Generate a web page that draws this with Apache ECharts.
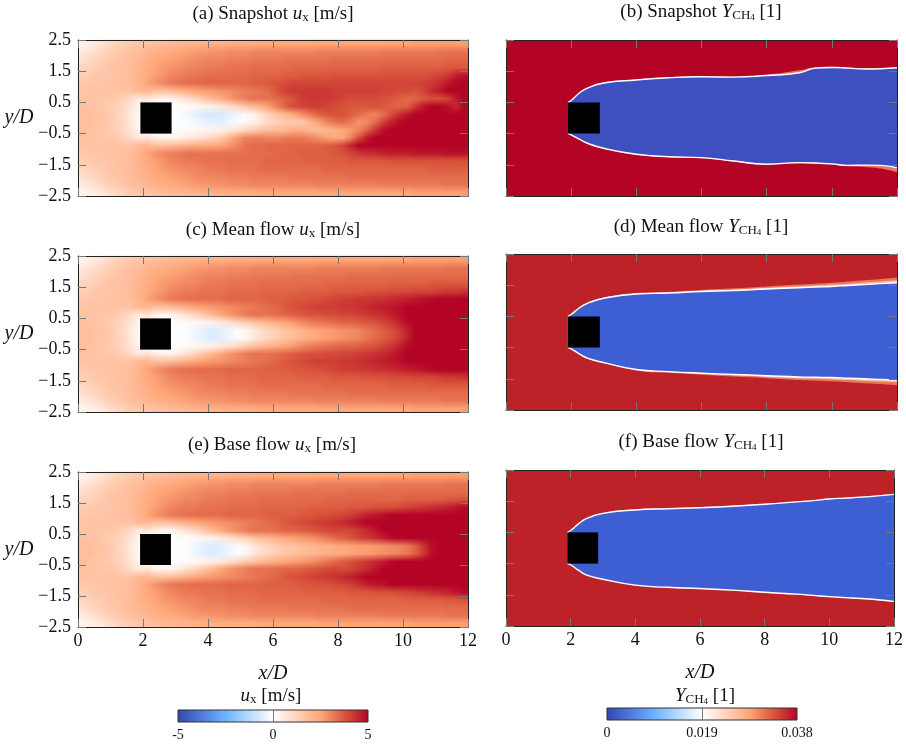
<!DOCTYPE html>
<html><head><meta charset="utf-8"><style>html,body{margin:0;padding:0;background:#fff}#c{width:906px;height:745px}</style>
<script src="https://cdn.jsdelivr.net/npm/echarts@6/dist/echarts.min.js"></script></head><body><div id="c"></div><script>
// ux fields in 0.1 m/s. Rows y=2.375..-2.375 (step .25), columns x=.125..11.875 (step .25)
const snapshotUx=[
[3,5,7,9,12,14,15,16,17,18,19,20,20,21,21,22,22,22,23,23,23,23,24,24,24,24,24,24,24,25,25,25,25,25,25,25,25,25,25,25,25,26,26,26,26,26,26,26],
[6,8,11,13,15,16,18,19,21,22,23,24,25,26,27,27,28,28,29,29,29,30,30,30,30,30,30,30,30,31,31,31,31,31,31,31,31,32,32,32,32,32,32,32,33,33,33,33],
[9,11,13,15,16,17,19,20,22,24,25,26,27,28,29,30,30,30,31,31,31,32,32,32,32,33,33,33,33,33,33,34,34,34,34,34,34,34,34,34,34,34,34,34,34,35,35,35],
[12,13,14,16,17,18,19,21,23,25,27,28,29,30,30,31,32,32,33,33,33,34,34,34,34,34,35,35,35,35,35,35,35,35,35,35,35,36,36,36,36,36,36,36,36,37,37,37],
[14,15,16,16,17,18,19,21,24,26,28,30,31,32,33,33,34,34,34,34,34,35,35,35,35,36,36,37,37,37,37,38,38,38,38,38,38,38,38,38,38,38,38,39,40,42,46,48],
[15,16,16,17,17,18,19,21,25,28,30,32,33,34,34,35,35,35,35,35,35,36,36,37,38,39,40,40,40,40,40,40,40,40,40,40,40,40,40,40,40,40,41,42,44,47,49,50],
[16,17,17,17,17,17,17,20,20,18,18,19,21,23,25,26,27,28,29,30,31,32,33,34,38,41,42,42,42,42,42,41,41,41,41,41,41,40,40,39,39,38,40,44,47,50,50,50],
[17,17,16,16,15,13,10,6,8,4,3,3,6,9,12,16,20,23,26,29,31,33,33,33,34,36,38,41,42,42,42,41,40,39,39,39,39,38,37,36,34,35,37,38,38,40,46,50],
[18,17,16,15,14,11,7,3,0,0,0,0,1,1,2,3,4,6,9,12,16,19,22,26,31,36,39,40,41,41,40,39,38,37,37,37,38,37,36,35,36,42,47,50,50,48,44,50],
[18,18,17,16,14,11,6,2,0,0,0,0,-1,-2,-5,-7,-7,-7,-5,-3,-1,3,8,13,17,20,24,28,32,35,37,38,38,36,34,32,30,33,38,43,47,50,50,50,50,50,50,50],
[18,18,17,16,14,11,6,2,0,0,0,0,0,-1,-2,-4,-5,-5,-3,-1,1,4,7,10,13,15,15,15,20,26,30,33,34,32,28,29,34,40,45,49,50,50,50,50,50,50,50,50],
[18,17,16,15,14,11,7,3,0,0,0,0,1,1,2,3,3,4,6,8,11,14,17,18,19,20,22,22,20,19,20,22,25,27,30,35,42,48,50,50,50,50,50,50,50,50,50,50],
[17,17,16,16,15,13,10,6,8,4,3,3,4,6,7,9,12,15,20,26,30,31,31,30,30,31,32,32,30,28,26,24,24,30,38,46,50,50,50,50,50,50,50,50,50,50,50,50],
[16,17,17,17,17,17,17,20,20,18,18,19,21,22,23,24,24,25,27,30,33,34,34,35,35,35,35,35,35,35,36,37,40,45,50,50,50,50,50,50,50,50,50,50,50,50,50,50],
[15,16,16,17,17,18,19,21,25,28,30,31,32,33,33,33,33,33,33,33,33,34,34,34,35,35,35,36,36,36,36,37,38,40,42,43,44,45,46,46,46,47,47,47,47,48,48,48],
[14,15,16,16,17,18,19,21,24,26,28,30,31,32,32,33,33,33,34,34,34,34,34,35,35,35,35,35,36,36,36,36,36,37,37,37,37,37,38,38,38,38,38,38,38,38,38,38],
[12,13,14,16,17,18,19,21,23,25,27,28,29,30,30,31,32,32,33,33,33,33,34,34,34,34,34,34,34,34,35,35,35,35,35,35,35,35,35,35,35,35,35,36,36,36,36,36],
[9,11,13,15,16,17,19,20,22,24,25,26,27,28,29,30,30,30,31,31,31,32,32,32,32,32,33,33,33,33,33,33,33,34,34,34,34,34,34,34,34,34,34,34,34,34,34,34],
[6,8,10,13,15,16,18,19,21,22,23,24,25,26,27,27,28,28,29,29,29,30,30,30,30,30,30,30,30,31,31,31,31,31,31,31,31,32,32,32,32,32,32,32,32,33,33,33],
[3,4,6,8,11,13,15,16,17,18,19,20,20,21,21,22,22,22,23,23,23,23,24,24,24,24,24,24,24,25,25,25,25,25,25,25,25,25,25,25,25,26,26,26,26,26,26,26]];
const meanUx=[
[3,5,7,9,12,14,15,16,17,18,19,20,20,21,21,22,22,22,23,23,23,23,24,24,24,24,24,24,24,25,25,25,25,25,25,25,25,25,25,25,25,26,26,26,26,26,26,26],
[6,8,11,13,15,16,18,19,21,22,23,24,25,26,27,27,28,28,29,29,29,30,30,30,30,30,30,30,30,31,31,31,31,31,31,31,31,32,32,32,32,32,32,32,32,33,33,33],
[9,11,13,15,16,17,19,20,22,24,25,26,27,28,29,30,30,30,31,31,31,32,32,32,32,32,33,33,33,33,33,33,33,34,34,34,34,34,34,34,34,34,34,34,34,34,34,34],
[12,13,14,16,17,18,19,21,23,25,27,28,29,30,30,31,32,32,33,33,33,33,34,34,34,34,34,34,34,34,35,35,35,35,35,35,35,35,36,36,36,36,36,37,37,37,37,37],
[14,15,16,16,17,18,19,21,24,26,28,30,31,32,32,33,33,33,34,34,34,34,35,35,35,35,35,36,36,36,36,37,37,37,37,38,38,38,39,39,39,40,40,40,41,42,42,43],
[15,16,16,17,17,18,19,21,25,28,30,32,33,33,34,34,34,34,35,35,35,35,35,36,36,36,37,37,38,38,39,40,41,41,42,42,43,43,44,45,46,47,48,49,50,50,50,50],
[16,17,17,17,17,17,17,20,20,18,18,19,21,23,25,26,27,28,29,30,31,32,33,34,35,37,38,39,40,41,41,41,42,42,43,44,45,46,47,48,50,50,50,50,50,50,50,50],
[17,17,16,16,15,13,10,6,8,4,3,3,6,9,12,16,20,24,27,29,31,33,33,33,34,35,36,37,38,38,39,39,40,40,41,42,43,44,46,48,50,50,50,50,50,50,50,50],
[18,17,16,15,14,11,7,3,0,0,0,0,1,1,2,3,4,6,8,11,14,17,19,21,23,25,27,29,31,32,33,34,35,35,36,37,38,40,42,45,49,50,50,50,50,50,50,50],
[18,18,17,16,14,11,6,2,0,0,0,0,0,-1,-3,-5,-6,-5,-3,-1,2,6,9,12,14,17,19,21,23,25,26,27,28,29,30,32,34,36,38,41,46,50,50,50,50,50,50,50],
[18,18,17,16,14,11,6,2,0,0,0,0,0,-1,-3,-5,-6,-5,-3,-1,2,6,9,12,14,17,19,21,23,25,26,27,28,29,30,32,34,36,38,41,46,50,50,50,50,50,50,50],
[18,17,16,15,14,11,7,3,0,0,0,0,1,1,2,3,4,6,8,11,14,17,19,21,23,25,27,29,31,32,33,34,35,35,36,37,38,40,42,45,49,50,50,50,50,50,50,50],
[17,17,16,16,15,13,10,6,8,4,3,3,6,9,12,16,20,24,27,29,31,33,33,33,34,35,36,37,38,38,39,39,40,40,41,42,43,44,46,48,50,50,50,50,50,50,50,50],
[16,17,17,17,17,17,17,20,20,18,18,19,21,23,25,26,27,28,29,30,31,32,33,34,35,37,38,39,40,41,41,41,42,42,43,44,45,46,47,48,50,50,50,50,50,50,50,50],
[15,16,16,17,17,18,19,21,25,28,30,32,33,33,34,34,34,34,35,35,35,35,35,36,36,36,37,37,38,38,39,40,41,41,42,42,43,43,44,45,46,47,48,49,50,50,50,50],
[14,15,16,16,17,18,19,21,24,26,28,30,31,32,32,33,33,33,34,34,34,34,35,35,35,35,35,36,36,36,36,37,37,37,37,38,38,38,39,39,39,40,40,40,41,42,42,43],
[12,13,14,16,17,18,19,21,23,25,27,28,29,30,30,31,32,32,33,33,33,33,34,34,34,34,34,34,34,34,35,35,35,35,35,35,35,35,36,36,36,36,36,37,37,37,37,37],
[9,11,13,15,16,17,19,20,22,24,25,26,27,28,29,30,30,30,31,31,31,32,32,32,32,32,33,33,33,33,33,33,33,34,34,34,34,34,34,34,34,34,34,34,34,34,34,34],
[6,8,10,13,15,16,18,19,21,22,23,24,25,26,27,27,28,28,29,29,29,30,30,30,30,30,30,30,30,31,31,31,31,31,31,31,31,32,32,32,32,32,32,32,32,33,33,33],
[3,4,6,8,11,13,15,16,17,18,19,20,20,21,21,22,22,22,23,23,23,23,24,24,24,24,24,24,24,25,25,25,25,25,25,25,25,25,25,25,25,26,26,26,26,26,26,26]];
const baseUx=[
[3,5,7,9,12,14,15,16,17,18,19,20,20,21,21,22,22,22,23,23,23,23,24,24,24,24,24,24,24,25,25,25,25,25,25,25,25,25,25,25,25,26,26,26,26,26,26,26],
[6,8,11,13,15,16,18,19,21,22,23,24,25,26,27,27,28,28,29,29,29,30,30,30,30,30,30,30,30,31,31,31,31,31,31,31,31,32,32,32,32,32,32,32,32,33,33,33],
[9,11,13,15,16,17,19,20,22,24,25,26,27,28,29,30,30,30,31,31,31,32,32,32,32,32,33,33,33,33,33,33,33,34,34,34,34,34,34,34,34,34,34,34,34,34,34,34],
[12,13,14,16,17,18,19,21,23,25,27,28,29,30,30,31,32,32,33,33,33,33,34,34,34,34,34,34,34,34,35,35,35,35,35,35,35,35,35,35,36,36,36,36,36,37,37,38],
[14,15,16,16,17,18,19,21,24,26,28,30,31,32,32,33,33,33,34,34,34,34,35,35,35,35,35,35,36,36,36,36,36,37,37,37,38,38,38,39,40,41,42,43,44,45,47,49],
[15,16,16,17,17,18,19,21,25,28,30,32,33,33,34,34,34,34,35,35,35,35,35,36,36,36,36,37,37,38,38,39,40,41,43,46,47,48,50,50,50,50,50,50,50,50,50,50],
[16,17,17,17,17,17,17,20,20,18,18,19,21,23,25,26,27,28,29,30,31,32,33,34,35,37,38,39,40,41,42,43,44,46,48,50,50,50,50,50,50,50,50,50,50,50,50,50],
[17,17,16,16,15,13,10,6,8,4,3,3,6,9,12,16,20,24,27,29,31,33,33,33,34,35,35,36,37,38,39,40,39,40,42,44,47,50,50,50,50,50,50,50,50,50,50,50],
[18,17,16,15,14,11,7,3,0,0,0,0,1,1,2,3,4,6,8,11,14,17,19,21,23,25,26,27,28,30,32,34,36,38,40,42,44,46,49,50,50,50,50,50,50,50,50,50],
[18,18,17,16,14,11,6,2,0,0,0,0,0,-1,-3,-5,-6,-5,-3,-1,2,6,9,12,14,16,17,19,20,21,22,23,24,25,26,26,27,28,29,30,32,36,42,48,50,50,50,50],
[18,18,17,16,14,11,6,2,0,0,0,0,0,-1,-3,-5,-6,-5,-3,-1,2,6,9,12,14,16,17,19,20,21,22,23,24,25,26,26,27,28,29,30,32,36,42,48,50,50,50,50],
[18,17,16,15,14,11,7,3,0,0,0,0,1,1,2,3,4,6,8,11,14,17,19,21,23,25,26,27,28,30,32,34,36,38,40,42,44,46,49,50,50,50,50,50,50,50,50,50],
[17,17,16,16,15,13,10,6,8,4,3,3,6,9,12,16,20,24,27,29,31,33,33,33,34,35,35,36,37,38,39,40,39,40,42,44,47,50,50,50,50,50,50,50,50,50,50,50],
[16,17,17,17,17,17,17,20,20,18,18,19,21,23,25,26,27,28,29,30,31,32,33,34,35,37,38,39,40,41,42,43,44,46,48,50,50,50,50,50,50,50,50,50,50,50,50,50],
[15,16,16,17,17,18,19,21,25,28,30,32,33,33,34,34,34,34,35,35,35,35,35,36,36,36,36,37,37,38,38,39,40,41,43,46,47,48,50,50,50,50,50,50,50,50,50,50],
[14,15,16,16,17,18,19,21,24,26,28,30,31,32,32,33,33,33,34,34,34,34,35,35,35,35,35,35,36,36,36,36,36,37,37,37,38,38,38,39,40,41,42,43,44,45,47,49],
[12,13,14,16,17,18,19,21,23,25,27,28,29,30,30,31,32,32,33,33,33,33,34,34,34,34,34,34,34,34,35,35,35,35,35,35,35,35,35,35,36,36,36,36,36,37,37,38],
[9,11,13,15,16,17,19,20,22,24,25,26,27,28,29,30,30,30,31,31,31,32,32,32,32,32,33,33,33,33,33,33,33,34,34,34,34,34,34,34,34,34,34,34,34,34,34,34],
[6,8,10,13,15,16,18,19,21,22,23,24,25,26,27,27,28,28,29,29,29,30,30,30,30,30,30,30,30,31,31,31,31,31,31,31,31,32,32,32,32,32,32,32,32,33,33,33],
[3,4,6,8,11,13,15,16,17,18,19,20,20,21,21,22,22,22,23,23,23,23,24,24,24,24,24,24,24,25,25,25,25,25,25,25,25,25,25,25,25,26,26,26,26,26,26,26]];
// CH4 plume edges y/D at edgeX
const edgeX=[1.9,2,2.25,2.5,3,4,5,6,7,8,9,9.5,10,10.5,11,11.5,12];
const snapUpper=[.5,.56,.8,.96,1.12,1.22,1.29,1.32,1.31,1.36,1.45,1.6,1.62,1.6,1.57,1.58,1.61];
const snapLower=[-.5,-.54,-.68,-.81,-.97,-1.16,-1.24,-1.27,-1.38,-1.48,-1.43,-1.44,-1.47,-1.52,-1.51,-1.52,-1.6];
const snapUpperOut=[.5,.57,.82,.98,1.14,1.24,1.31,1.34,1.33,1.39,1.53,1.63,1.64,1.62,1.6,1.6,1.63];
const snapLowerOut=[-.5,-.55,-.7,-.83,-.99,-1.18,-1.26,-1.29,-1.4,-1.5,-1.45,-1.46,-1.49,-1.55,-1.57,-1.62,-1.74];
const meanUpper=[.5,.56,.77,.92,1.08,1.22,1.25,1.3,1.33,1.38,1.42,1.44,1.46,1.49,1.52,1.55,1.58];
const meanLower=[-.5,-.54,-.7,-.84,-.98,-1.2,-1.27,-1.32,-1.36,-1.4,-1.44,-1.45,-1.46,-1.48,-1.5,-1.52,-1.54];
const meanUpperMid=[.5,.56,.78,.93,1.09,1.23,1.27,1.32,1.36,1.42,1.47,1.49,1.52,1.55,1.59,1.62,1.66];
const meanLowerMid=[-.5,-.54,-.71,-.85,-.99,-1.21,-1.29,-1.34,-1.39,-1.44,-1.49,-1.5,-1.52,-1.54,-1.57,-1.59,-1.62];
const meanUpperOut=[.5,.57,.79,.94,1.1,1.25,1.29,1.35,1.4,1.46,1.52,1.55,1.58,1.62,1.66,1.7,1.75];
const meanLowerOut=[-.5,-.55,-.72,-.86,-1,-1.23,-1.31,-1.37,-1.43,-1.48,-1.54,-1.56,-1.58,-1.61,-1.64,-1.67,-1.71];
const baseUpper=[.5,.56,.78,.95,1.11,1.22,1.26,1.29,1.34,1.4,1.48,1.52,1.57,1.6,1.63,1.67,1.72];
const baseLower=[-.5,-.54,-.72,-.87,-1,-1.19,-1.26,-1.3,-1.35,-1.42,-1.48,-1.52,-1.56,-1.59,-1.62,-1.66,-1.71];
const baseUpperOut=[.5,.57,.8,.97,1.13,1.24,1.28,1.31,1.36,1.42,1.5,1.54,1.59,1.62,1.65,1.69,1.74];
const baseLowerOut=[-.5,-.55,-.74,-.89,-1.02,-1.21,-1.28,-1.32,-1.37,-1.44,-1.5,-1.54,-1.58,-1.61,-1.64,-1.68,-1.73];
const xTickValues=[0,2,4,6,8,10,12];
const yTickValues=[-2.5,-1.5,-0.5,0.5,1.5,2.5];
const uxBarTicks=[-5,0,5];
const yBarTicks=[0,0.019,0.038];
const domainX=[0,12], domainY=[-2.5,2.5];
const coolWarm=['#3246b0','#4f7ad8','#6db3ff','#b6d9ff','#ffffff','#ffd3bc','#ffa678','#d9553c','#b40426'];
const FONT='Liberation Serif', TC='#111';

const panels=[
 {t:'(a) Snapshot {i|u}{s|x} [m/s]',cx:273,ty:4,left:78,top:40,w:390,h:156,ux:snapshotUx,ob:[1.92,2.88],col:0},
 {t:'(c) Mean flow {i|u}{s|x} [m/s]',cx:273,ty:220,left:78,top:256,w:390,h:156,ux:meanUx,ob:[1.91,2.86],col:0},
 {t:'(e) Base flow {i|u}{s|x} [m/s]',cx:272,ty:435,left:78,top:472,w:390,h:155,ux:baseUx,ob:[1.91,2.86],col:0,bottom:true},
 {t:'(b) Snapshot {i|Y}{s|CH}{ss|4} [1]',cx:701,ty:2,left:506,top:40,w:391,h:156,up:snapUpper,lo:snapLower,upO:snapUpperOut,loO:snapLowerOut,red:'#b40426',blue:'#3e4fc0',ob:[1.9,2.88],col:1},
 {t:'(d) Mean flow {i|Y}{s|CH}{ss|4} [1]',cx:701,ty:217,left:506,top:254,w:391,h:156,up:meanUpper,lo:meanLower,upM:meanUpperMid,loM:meanLowerMid,upO:meanUpperOut,loO:meanLowerOut,red:'#be2229',blue:'#3e5fd3',ob:[1.9,2.88],col:1},
 {t:'(f) Base flow {i|Y}{s|CH}{ss|4} [1]',cx:701,ty:432,left:506,top:470,w:391,h:156,up:baseUpper,lo:baseLower,upO:baseUpperOut,loO:baseLowerOut,red:'#be2229',blue:'#3e5fd3',ob:[1.9,2.85],col:1,bottom:true}
];
const rich={i:{fontFamily:FONT,fontStyle:'italic',fontSize:19,color:TC,lineHeight:20},
 s:{fontFamily:FONT,fontStyle:'normal',fontSize:13,color:TC,verticalAlign:'bottom'},
 ss:{fontFamily:FONT,fontSize:9,color:TC,verticalAlign:'bottom'}};
const titleOf=(text,cx,top)=>({text,left:cx,top,padding:0,textAlign:'center',textStyle:{fontFamily:FONT,fontSize:19,fontWeight:'normal',color:TC,lineHeight:20,rich}});
const minus=v=>String(v).replace('-','\u2212');
const xCells=[],yCells=[];
for(let i=0;i<48;i++)xCells.push(String(.125+i*.25));
for(let j=0;j<20;j++)yCells.push(String(2.375-j*.25));

// colour of a value on the cool-to-warm scale (same stops as the visualMap)
const rgbStops=coolWarm.map(h=>[1,3,5].map(k=>parseInt(h.substr(k,2),16)));
function colourOf(v){
  const t=Math.max(0,Math.min(rgbStops.length-1.0001,(v+5)/10*(rgbStops.length-1))),k=Math.floor(t),f=t-k;
  return rgbStops[k].map((c,n)=>Math.round(c+(rgbStops[k+1][n]-c)*f));
}
// raster of the field: one pixel per cell, the browser smooths it when it is scaled to the axes
function fieldImage(rows){
  const cv=document.createElement('canvas');cv.width=rows[0].length;cv.height=rows.length;
  const c=cv.getContext('2d'),im=c.createImageData(cv.width,cv.height);
  rows.forEach((row,j)=>row.forEach((v,i)=>{const q=colourOf(v/10),o=4*(j*cv.width+i);im.data[o]=q[0];im.data[o+1]=q[1];im.data[o+2]=q[2];im.data[o+3]=255;}));
  c.putImageData(im,0,0);return cv;
}

const grid=[],xAxis=[],yAxis=[],series=[],title=[],heatIdx=[];
const valueX=(g,pos,p)=>({type:'value',gridIndex:g,position:pos,min:domainX[0],max:domainX[1],z:10,
  axisLine:{show:true,onZero:false,lineStyle:{color:'#222',width:1}},splitLine:{show:false},
  axisTick:{show:true,inside:true,length:8,customValues:xTickValues,lineStyle:{color:'#777',width:1}},
  axisLabel:{show:pos==='bottom'&&!!p.bottom,customValues:xTickValues,margin:5,fontFamily:FONT,fontSize:18,color:TC},
  ...(pos==='bottom'&&p.bottom?{name:'x/D',nameLocation:'middle',nameGap:37,nameTextStyle:{fontFamily:FONT,fontStyle:'italic',fontSize:20,color:TC}}:{})});
const valueY=(g,pos,p)=>({type:'value',gridIndex:g,position:pos,min:domainY[0],max:domainY[1],z:10,
  axisLine:{show:true,onZero:false,lineStyle:{color:'#222',width:1}},splitLine:{show:false},
  axisTick:{show:true,inside:true,length:8,customValues:yTickValues,lineStyle:{color:'#777',width:1}},
  axisLabel:{show:pos==='left'&&p.col===0,customValues:yTickValues,margin:7,fontFamily:FONT,fontSize:18,color:TC,formatter:v=>minus(v.toFixed(1))},
  ...(pos==='left'&&p.col===0?{name:'y/D',nameLocation:'middle',nameRotate:0,nameGap:26,nameTextStyle:{fontFamily:FONT,fontStyle:'italic',fontSize:20,color:TC}}:{})});

function area(pts,color,xIdx,yIdx,z){
  series.push({type:'line',xAxisIndex:xIdx,yAxisIndex:yIdx,data:pts,symbol:'none',smooth:0.5,silent:true,z,
    lineStyle:{width:0,opacity:0},areaStyle:{color,opacity:1,origin:'start'}});
}
function edgeLine(xs,ys,color,width,xIdx,yIdx){
  series.push({type:'line',xAxisIndex:xIdx,yAxisIndex:yIdx,data:xs.map((x,i)=>[x,ys[i]]),symbol:'none',smooth:0.5,silent:true,z:4,lineStyle:{color,width}});
}
const pair=(ys)=>edgeX.map((x,i)=>[x,ys[i]]);
panels.forEach((p,g)=>{
  title.push(titleOf(p.t,p.cx,p.ty));
  grid.push({left:p.left,top:p.top,width:p.w,height:p.h,show:false});
  const base=xAxis.length;
  xAxis.push({type:'category',gridIndex:g,data:xCells,show:false},valueX(g,'bottom',p),valueX(g,'top',p));
  yAxis.push({type:'category',gridIndex:g,data:yCells,inverse:true,show:false},valueY(g,'left',p),valueY(g,'right',p));
  const vx=base+1, vy=base+1;
  if(p.ux){
    const data=[];
    p.ux.forEach((row,j)=>row.forEach((v,i)=>data.push([i,j,v/10])));
    heatIdx.push(series.length);
    series.push({type:'heatmap',xAxisIndex:base,yAxisIndex:base,data,silent:true,z:2,progressive:0});
    const img=fieldImage(p.ux);
    series.push({type:'custom',xAxisIndex:vx,yAxisIndex:vy,silent:true,z:3,
      data:[[domainX[0],domainY[1],domainX[1],domainY[0]]],encode:{x:[0,2],y:[1,3]},
      renderItem:(params,api)=>{
        const a=api.coord([api.value(0),api.value(1)]),b=api.coord([api.value(2),api.value(3)]);
        return {type:'image',style:{image:img,x:a[0],y:a[1],width:b[0]-a[0],height:b[1]-a[1]}};
      }});
  }else{
    const salmon='#e8775c',peach='#f9bda0';
    area(domainX.map(x=>[x,domainY[1]]),p.red,vx,vy,3);
    area(pair(p.upO),salmon,vx,vy,3);
    if(p.upM)area(pair(p.upM),peach,vx,vy,3);
    area(pair(p.up),p.blue,vx,vy,3);
    area(pair(p.lo),p.loM?peach:salmon,vx,vy,3);
    if(p.loM)area(pair(p.loM),salmon,vx,vy,3);
    // lead-in point at the inlet keeps the far-field colour seamless below the obstacle
    area([[domainX[0],-0.5],[1.5,-0.5]].concat(pair(p.loO)),p.red,vx,vy,3);
    edgeLine(edgeX,p.up,'#ffffff',1.4,vx,vy);
    edgeLine(edgeX,p.lo,'#ffffff',1.4,vx,vy);
  }
  series.push({type:'custom',xAxisIndex:vx,yAxisIndex:vy,silent:true,z:6,
    data:[[p.ob[0],0.5,p.ob[1],-0.5]],encode:{x:[0,2],y:[1,3]},
    renderItem:(params,api)=>{
      const a=api.coord([api.value(0),api.value(1)]),b=api.coord([api.value(2),api.value(3)]);
      return {type:'rect',shape:{x:a[0],y:a[1],width:b[0]-a[0],height:b[1]-a[1]},style:{fill:'#000'}};
    }});
});
// colour bars
const bars=[
 {left:178,w:190,top:710,min:-5,max:5,ticks:uxBarTicks,fmt:v=>String(v),t:'{i|u}{s|x} [m/s]',cx:271,ty:686},
 {left:607,w:190,top:708,min:0,max:.038,ticks:yBarTicks,fmt:v=>v===0?'0':v.toFixed(3),t:'{i|Y}{s|CH}{ss|4} [1]',cx:705,ty:686}];
bars.forEach(b=>{
  const g=grid.length;
  title.push(titleOf(b.t,b.cx,b.ty));
  grid.push({left:b.left,top:b.top,width:b.w,height:12});
  const xi=xAxis.length,yi=yAxis.length;
  xAxis.push({type:'value',gridIndex:g,min:b.min,max:b.max,z:10,position:'bottom',
    axisLine:{show:false},splitLine:{show:false},
    axisTick:{show:true,inside:true,length:12,customValues:[(b.min+b.max)/2],lineStyle:{color:'#777'}},
    axisLabel:{customValues:b.ticks,formatter:b.fmt,margin:6,fontFamily:FONT,fontSize:14,color:TC}});
  yAxis.push({type:'value',gridIndex:g,min:0,max:1,show:false});
  series.push({type:'custom',xAxisIndex:xi,yAxisIndex:yi,silent:true,z:3,data:[[b.min,1,b.max,0]],encode:{x:[0,2],y:[1,3]},
    renderItem:(params,api)=>{
      const a=api.coord([api.value(0),api.value(1)]),c=api.coord([api.value(2),api.value(3)]);
      return {type:'rect',shape:{x:a[0],y:a[1],width:c[0]-a[0],height:c[1]-a[1]},
        style:{stroke:'#333',lineWidth:1,fill:new echarts.graphic.LinearGradient(0,0,1,0,coolWarm.map((color,i)=>({offset:i/(coolWarm.length-1),color})))}};
    }});
});
const chart=echarts.init(document.getElementById('c'),null,{renderer:'canvas'});
chart.setOption({animation:false,backgroundColor:'#fff',title,grid,xAxis,yAxis,series,tooltip:{show:false},
  visualMap:{show:false,type:'continuous',min:-5,max:5,seriesIndex:heatIdx,inRange:{color:coolWarm},calculable:false}});
</script></body></html>
